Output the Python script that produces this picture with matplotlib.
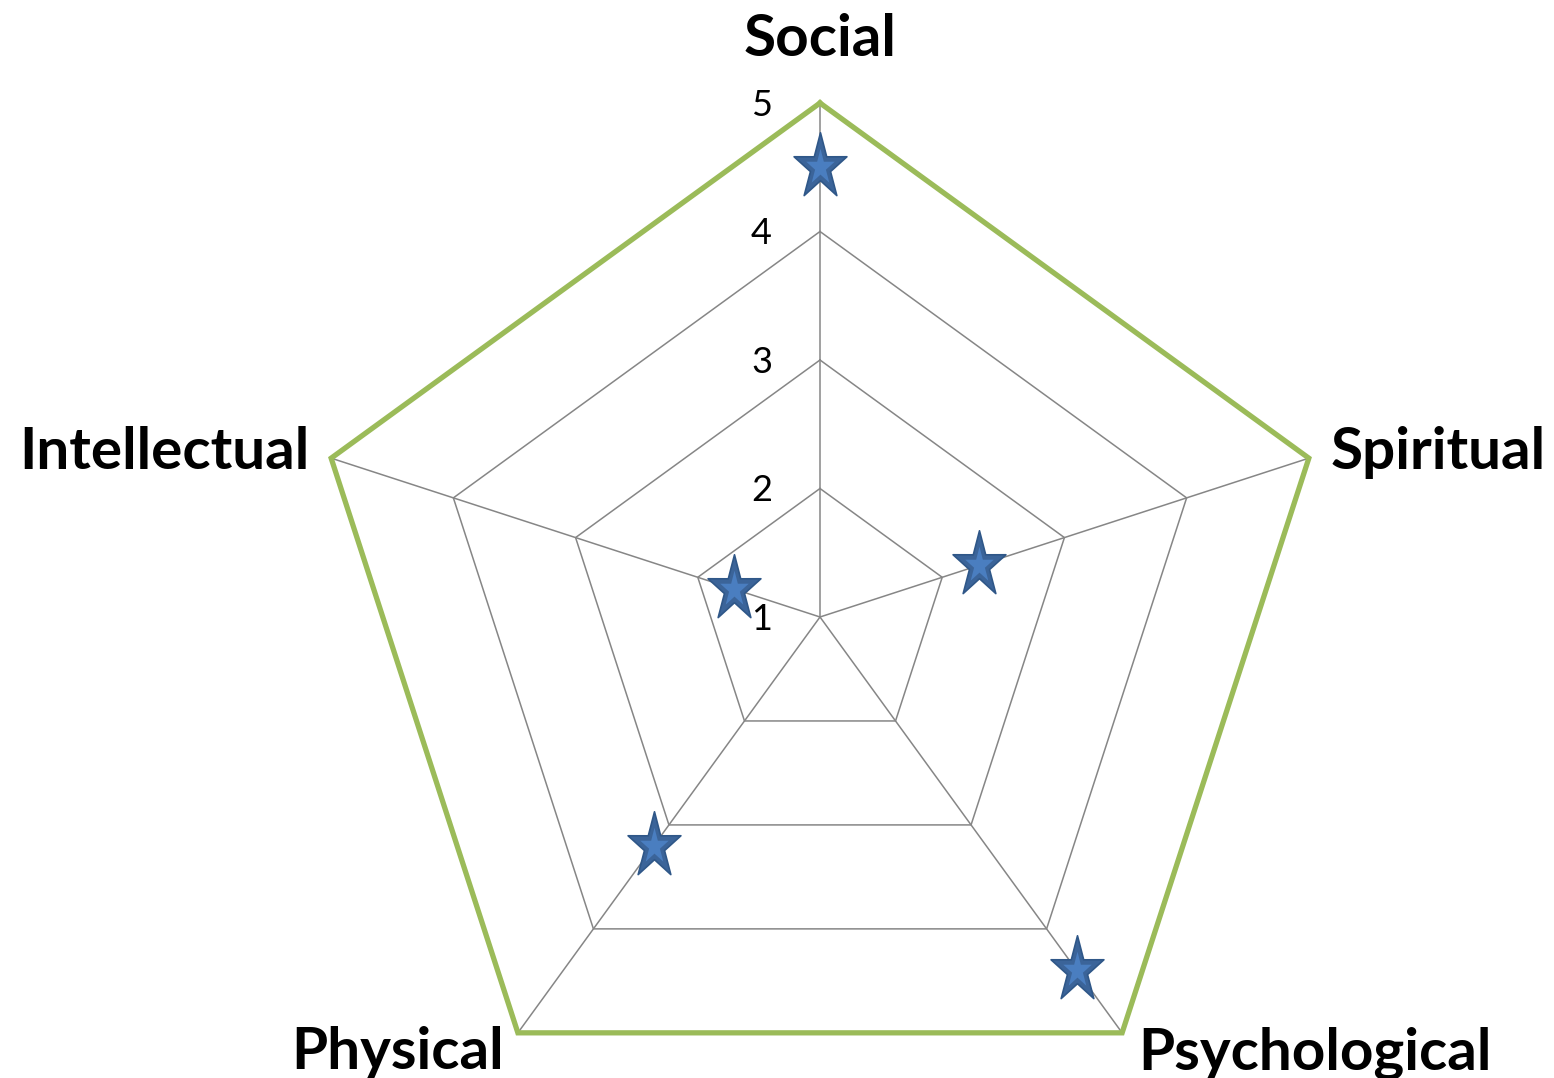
import numpy as np
import matplotlib.pyplot as plt
from matplotlib.path import Path

categories = ['Social', 'Spiritual', 'Psychological', 'Physical', 'Intellectual']
values = [4.5, 2.3, 4.4, 3.2, 1.7]
ring_levels = [1, 2, 3, 4]
tick_labels = ['1', '2', '3', '4', '5']
r_min, r_max = 1, 5

plt.rcParams['font.family'] = 'Lato'


def tall_star(inner=0.38, stretch=1.25):
    # five point star, a bit taller than wide like the Excel marker
    ang = np.pi / 2 + np.arange(10) * np.pi / 5
    rad = np.where(np.arange(10) % 2 == 0, 1.0, inner)
    verts = np.column_stack([rad * np.cos(ang), rad * np.sin(ang) * stretch])
    verts = np.vstack([verts, verts[0]])
    codes = [Path.MOVETO] + [Path.LINETO] * 9 + [Path.CLOSEPOLY]
    return Path(verts, codes)


star = tall_star()

fig = plt.figure(figsize=(15.54, 10.78), dpi=100)
W, H = 1554, 1078
cx, cy, R = 820, 1078 - 617, 514
ax = fig.add_axes([(cx - R) / W, (cy - R) / H, 2 * R / W, 2 * R / H], projection='polar')
ax.set_theta_offset(np.pi / 2)
ax.set_theta_direction(-1)
ax.set_ylim(r_min, r_max)
ax.axis('off')

n = len(categories)
theta = np.arange(n) * 2 * np.pi / n
theta_closed = np.append(theta, theta[0])

grid_col = '#868686'
# inner rings and spokes
for lv in ring_levels[1:]:
    ax.plot(theta_closed, [lv] * (n + 1), color=grid_col, lw=1.1, zorder=1, clip_on=False)
for t in theta:
    ax.plot([t, t], [r_min, r_max], color=grid_col, lw=1.1, zorder=1, clip_on=False)
# outer ring
ax.plot(theta_closed, [r_max] * (n + 1), color='#9BBB59', lw=3.8, zorder=2,
        clip_on=False, solid_joinstyle='miter')

# stars: darker outer body with a lighter inner star
ax.plot(theta, values, linestyle='none', marker=star, markersize=50,
        markerfacecolor='#3B6499', markeredgecolor='#2F5788', markeredgewidth=1.2,
        zorder=4, clip_on=False)
ax.plot(theta, values, linestyle='none', marker=star, markersize=27,
        markerfacecolor='#4A7EC0', markeredgewidth=0,
        zorder=5, clip_on=False)

# tick labels along the Social axis
for i, lab in enumerate(tick_labels):
    ax.annotate(lab, xy=(0, r_min + i), xytext=(-48, -2), textcoords='offset pixels',
                ha='right', va='center', fontsize=26, color='black', zorder=3,
                annotation_clip=False)

# category labels
offsets = [((0, 64), 'center', 'center'),
           ((22, 6), 'left', 'center'),
           ((16, -20), 'left', 'center'),
           ((-14, -20), 'right', 'center'),
           ((-22, 6), 'right', 'center')]
for t, lab, (off, ha, va) in zip(theta, categories, offsets):
    ax.annotate(lab, xy=(t, r_max), xytext=off, textcoords='offset pixels',
                ha=ha, va=va, fontsize=42, fontweight='bold', color='black',
                annotation_clip=False)

fig.savefig('out.png', dpi=100)
